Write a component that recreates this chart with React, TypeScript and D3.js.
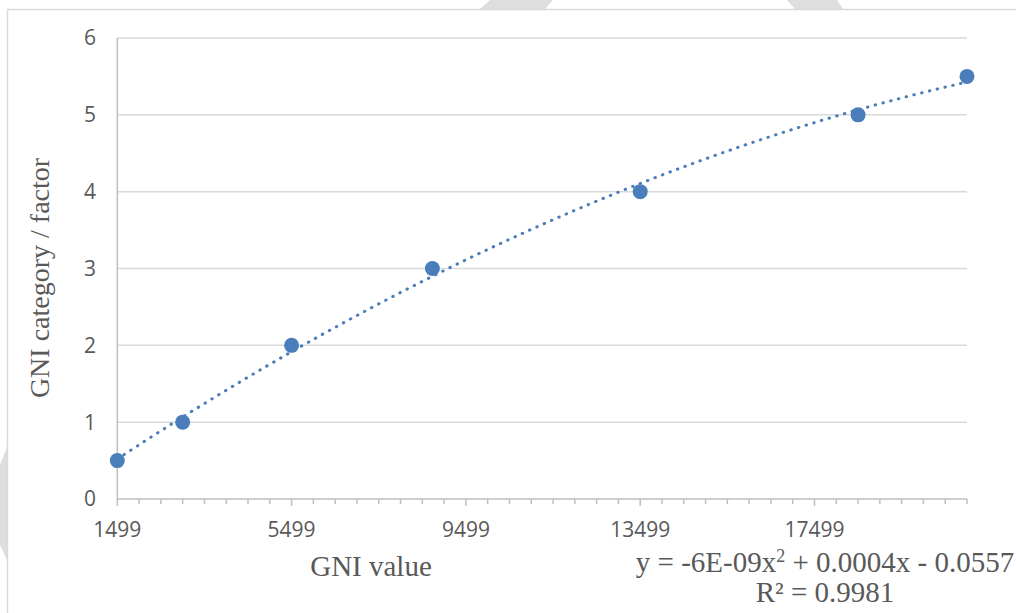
import React from "react";
import * as d3 from "d3";

const gniValues = [1499, 2999, 5499, 8730, 13499, 18499, 20999];
const categoryFactors = [0.5, 1, 2, 3, 4, 5, 5.5];
const xTickLabels = [1499, 5499, 9499, 13499, 17499];
const yTickLabels = [0, 1, 2, 3, 4, 5, 6];
const equationText = "y = -6E-09x";
const equationRest = " + 0.0004x - 0.0557";
const r2Text = "R² = 0.9981";

const W = 1016;
const H = 613;
const X0 = 117.3;
const X1 = 967;
const Y0 = 499;
const Y1 = 38;
const BLUE = "#4a7ebb";
const GRID = "#d9d9d9";
const AXIS = "#bfbfbf";
const TEXT = "#595959";
const SANS = "'Open Sans', sans-serif";
const SERIF = "'Liberation Serif', 'Times New Roman', serif";

function quadFit(xs: number[], ys: number[]) {
  // least squares y = a + b t + c t^2, t = x/1000
  const ts = xs.map((x) => x / 1000);
  const S = (p: number) => d3.sum(ts, (t) => Math.pow(t, p));
  const T = (p: number) => d3.sum(ts, (t, i) => Math.pow(t, p) * ys[i]);
  const M = [
    [S(0), S(1), S(2), T(0)],
    [S(1), S(2), S(3), T(1)],
    [S(2), S(3), S(4), T(2)],
  ];
  for (let i = 0; i < 3; i++) {
    for (let k = i + 1; k < 3; k++) {
      const f = M[k][i] / M[i][i];
      for (let j = i; j < 4; j++) M[k][j] -= f * M[i][j];
    }
  }
  const sol = [0, 0, 0];
  for (let i = 2; i >= 0; i--) {
    let s = M[i][3];
    for (let j = i + 1; j < 3; j++) s -= M[i][j] * sol[j];
    sol[i] = s / M[i][i];
  }
  return (x: number) => sol[0] + sol[1] * (x / 1000) + sol[2] * (x / 1000) * (x / 1000);
}

export default function App() {
  const x = d3.scaleLinear().domain([1499, 20999]).range([X0, X1]);
  const y = d3.scaleLinear().domain([0, 6]).range([Y0, Y1]);
  const fit = quadFit(gniValues, categoryFactors);
  const trendXs = d3.range(1499, 20999 + 1, 100);
  const line = d3
    .line<number>()
    .x((d) => x(d))
    .y((d) => y(fit(d)))
    .curve(d3.curveLinear);
  const minorTicks = d3.range(1499, 20999 + 1, 500);
  const majorSet = new Set(d3.range(1499, 20999 + 1, 4000));

  return (
    <svg
      width={W}
      height={H}
      style={{ position: "absolute", left: 0, top: 0, background: "#fff" }}
    >
      <rect x={0} y={0} width={W} height={H} fill="#fff" />
      {/* page decorations */}
      <polygon points="480,9 490,0 553,0 545,9" fill="#dedede" />
      <polygon points="787,0 837,0 843,9 795,9" fill="#dedede" />
      <polygon points="0,465 7,447 7,560 0,545" fill="#dedede" />
      <path d={`M7.5,${H} V9.5 H${W}`} fill="none" stroke={GRID} strokeWidth={1.5} />

      {/* gridlines */}
      {yTickLabels.slice(1).map((v) => (
        <line key={v} x1={X0} x2={X1} y1={y(v)} y2={y(v)} stroke={GRID} strokeWidth={1.5} />
      ))}
      {/* y axis line */}
      <line x1={X0} x2={X0} y1={Y1} y2={Y0} stroke={AXIS} strokeWidth={1.5} />
      {/* x axis */}
      <line x1={X0} x2={X1} y1={Y0} y2={Y0} stroke={AXIS} strokeWidth={1.5} />
      {minorTicks.map((t) => (
        <line
          key={t}
          x1={x(t)}
          x2={x(t)}
          y1={Y0}
          y2={Y0 + (majorSet.has(t) ? 7 : 5)}
          stroke={AXIS}
          strokeWidth={1.5}
        />
      ))}
      {/* y tick labels */}
      {yTickLabels.map((v) => (
        <text
          key={v}
          x={96}
          y={y(v)}
          dy="0.35em"
          textAnchor="end"
          fontFamily={SANS}
          fontSize={21}
          fill={TEXT}
        >
          {v}
        </text>
      ))}
      {/* x tick labels */}
      {xTickLabels.map((v) => (
        <text
          key={v}
          x={x(v)}
          y={537}
          textAnchor="middle"
          fontFamily={SANS}
          fontSize={21}
          fill={TEXT}
        >
          {v}
        </text>
      ))}
      {/* axis titles */}
      <text x={371} y={576} textAnchor="middle" fontFamily={SERIF} fontSize={29} fill={TEXT}>
        GNI value
      </text>
      <text
        transform={`translate(49,278) rotate(-90)`}
        textAnchor="middle"
        fontFamily={SERIF}
        fontSize={28}
        fill={TEXT}
      >
        GNI category / factor
      </text>

      {/* trendline */}
      <path
        d={line(trendXs) || ""}
        fill="none"
        stroke={BLUE}
        strokeWidth={3}
        strokeDasharray="0.5 7.5"
        strokeLinecap="round"
      />
      {/* points */}
      {gniValues.map((g, i) => (
        <circle key={i} cx={x(g)} cy={y(categoryFactors[i])} r={7.5} fill={BLUE} />
      ))}

      {/* equation */}
      <text x={825} y={572} textAnchor="middle" fontFamily={SERIF} fontSize={29} fill={TEXT}>
        {equationText}
        <tspan dy={-10} fontSize={18}>2</tspan>
        <tspan dy={10}>{equationRest}</tspan>
      </text>
      <text x={825} y={602} textAnchor="middle" fontFamily={SERIF} fontSize={29} fill={TEXT}>
        {r2Text}
      </text>
    </svg>
  );
}
